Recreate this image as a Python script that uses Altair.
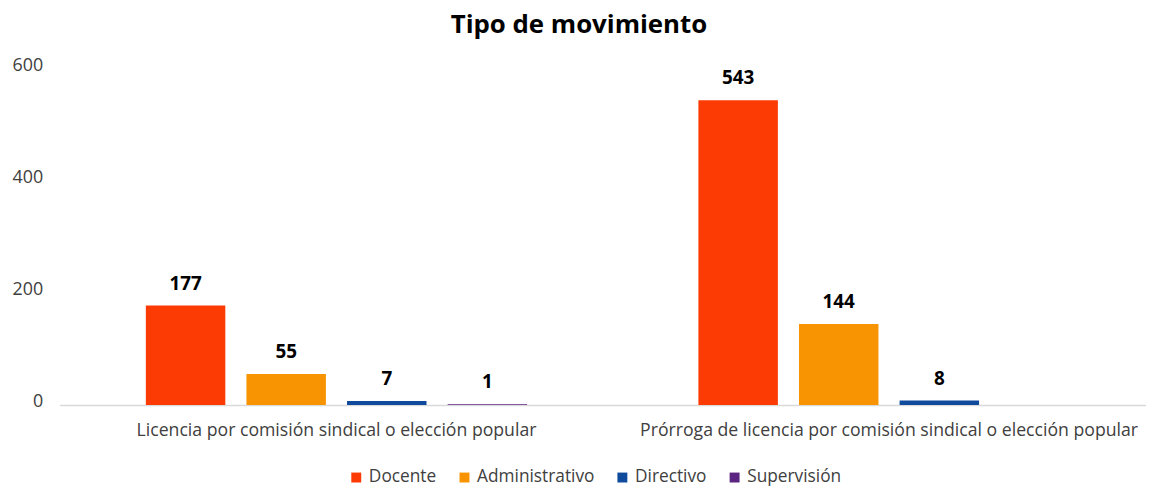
import altair as alt
import pandas as pd

categories = ["Licencia por comisión sindical o elección popular",
              "Prórroga de licencia por comisión sindical o elección popular"]
series = ["Docente", "Administrativo", "Directivo", "Supervisión"]
docente = [177, 543]
administrativo = [55, 144]
directivo = [7, 8]
supervision = [1, None]
colors = ["#FC3A03", "#F89402", "#0F4A9C", "#5B2481"]

rows = []
for i, c in enumerate(categories):
    for s, vals in zip(series, [docente, administrativo, directivo, supervision]):
        if vals[i] is not None:
            rows.append({"cat": c, "serie": s, "valor": vals[i]})
df = pd.DataFrame(rows)

FONT = "Open Sans"

x = alt.X("cat:N", sort=categories, title=None,
          scale=alt.Scale(paddingInner=0.31, paddingOuter=0.156, range=[0, 1114]),
          axis=alt.Axis(labelAngle=0, labelFontSize=17.8, labelColor="#404040",
                        labelFont=FONT, labelPadding=17, ticks=False, labelLimit=0,
                        domainColor="#D9D9D9", domainWidth=1.5))
xo = alt.XOffset("serie:N", sort=series,
                 scale=alt.Scale(domain=series, paddingInner=0.21, paddingOuter=0))
y = alt.Y("valor:Q", title=None,
          scale=alt.Scale(domain=[0, 600]),
          axis=alt.Axis(values=[0, 200, 400, 600], grid=False, domain=False, ticks=False,
                        labelFontSize=18, labelColor="#404040", labelFont=FONT,
                        labelPadding=17, labelOffset=-3))

base = alt.Chart(df)
bars = base.mark_bar().encode(
    x=x, xOffset=xo, y=y,
    color=alt.Color("serie:N", sort=series,
                    scale=alt.Scale(domain=series, range=colors),
                    legend=alt.Legend(title=None, orient="none", direction="horizontal",
                                      columns=4, legendX=290, legendY=403,
                                      symbolType="square", symbolSize=100,
                                      symbolStrokeWidth=0, labelFontSize=17.4,
                                      labelFont=FONT, labelColor="#404040",
                                      columnPadding=19, symbolOffset=0,
                                      labelOffset=4)),
)
labels = base.mark_text(fontWeight="bold", fontSize=19, font=FONT, color="#000000",
                        baseline="alphabetic", dy=-16).encode(
    x=x, xOffset=xo, y=y, text=alt.Text("valor:Q"))

chart = (bars + labels).properties(
    width=1090, height=339,
    autosize=alt.AutoSizeParams(type="none"),
    padding={"left": 52, "top": 59, "right": 4, "bottom": 81},
    title=alt.TitleParams("Tipo de movimiento", fontSize=26, fontWeight="bold",
                          font=FONT, color="#000000", anchor="middle", offset=19,
                          dx=-22),
).configure_view(stroke=None)

chart.save("out.html", embed_options={"renderer": "svg", "actions": False})
